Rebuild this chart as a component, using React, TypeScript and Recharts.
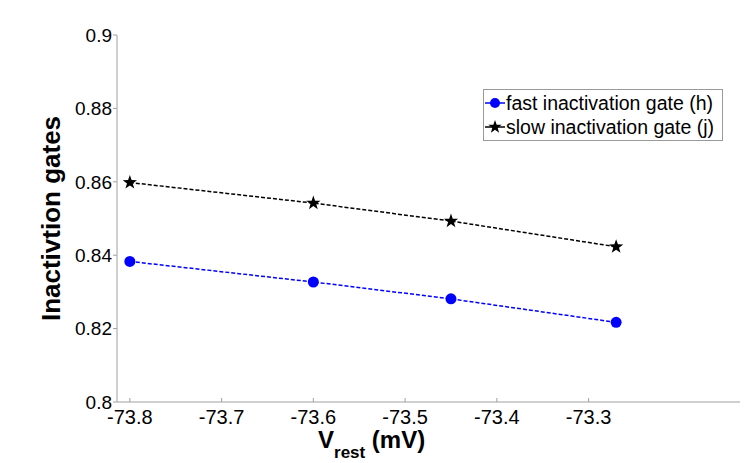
import { LineChart, Line, XAxis, YAxis } from "recharts";

const vRest = [-73.8, -73.6, -73.45, -73.27];
const fastGate = [0.8383, 0.8327, 0.8281, 0.8217];
const slowGate = [0.8598, 0.8542, 0.8493, 0.8423];

const xTicks = [-73.8, -73.7, -73.6, -73.5, -73.4, -73.3];
const yTicks = [0.8, 0.82, 0.84, 0.86, 0.88, 0.9];

const chartData = vRest.map((v, i) => ({ v, fast: fastGate[i], slow: slowGate[i] }));

const FONT = "Arial, 'Liberation Sans', Helvetica, sans-serif";

function starPath(cx: number, cy: number, outer: number, inner: number) {
  let d = "";
  for (let i = 0; i < 10; i++) {
    const r = i % 2 === 0 ? outer : inner;
    const a = -Math.PI / 2 + (i * Math.PI) / 5;
    d += (i === 0 ? "M" : "L") + (cx + r * Math.cos(a)).toFixed(2) + "," + (cy + r * Math.sin(a)).toFixed(2);
  }
  return d + "Z";
}

function StarDot(props: any) {
  const { cx, cy, index } = props;
  if (cx == null || cy == null) return null;
  return <path key={`star-${index}`} d={starPath(cx, cy, 7.5, 3)} fill="#000" />;
}

function LegendBox() {
  const rows = [
    { label: "fast inactivation gate (h)", color: "#0000ff", star: false },
    { label: "slow inactivation gate (j)", color: "#000", star: true },
  ];
  return (
    <div
      style={{
        position: "absolute",
        left: 483,
        top: 89,
        width: 240,
        height: 52,
        boxSizing: "border-box",
        border: "1px solid #9a9a9a",
        background: "#fff",
        fontFamily: FONT,
        fontSize: 19.5,
        color: "#000",
        paddingTop: 1,
      }}
    >
      {rows.map((r) => (
        <div key={r.label} style={{ display: "flex", alignItems: "center", height: 24, whiteSpace: "nowrap" }}>
          <svg width={22} height={20} style={{ flex: "none" }}>
            <line x1={1} y1={10} x2={21} y2={10} stroke={r.color} strokeWidth={1.5} />
            {r.star ? (
              <path d={starPath(11, 10, 7, 2.8)} fill="#000" />
            ) : (
              <circle cx={11} cy={10} r={5} fill={r.color} />
            )}
          </svg>
          <span>{r.label}</span>
        </div>
      ))}
    </div>
  );
}

function XLabel() {
  return (
    <text x={318} y={448} fontFamily={FONT} fontWeight="bold" fill="#000">
      <tspan fontSize={24}>V</tspan>
      <tspan fontSize={17} dy={10}>rest</tspan>
      <tspan fontSize={24} dy={-10}> (mV)</tspan>
    </text>
  );
}

export default function App() {
  return (
    <div style={{ position: "absolute", left: 0, top: 0, width: 750, height: 463, background: "#fff" }}>
      <LineChart width={750} height={463} data={chartData} margin={{ top: 35, right: 10, left: 0, bottom: 0 }}>
        <XAxis
          dataKey="v"
          type="number"
          domain={[-73.814, -73.135]}
          ticks={xTicks}
          allowDataOverflow
          height={61}
          stroke="#a0a0a0"
          tickSize={-4}
          tickMargin={12}
          tick={{ fill: "#000", fontSize: 20, fontFamily: FONT }}
          label={<XLabel />}
        />
        <YAxis
          type="number"
          domain={[0.8, 0.9]}
          ticks={yTicks}
          width={117}
          stroke="#a0a0a0"
          tickSize={4}
          tickMargin={1}
          tickFormatter={(v: number) => String(v)}
          tick={{ fill: "#000", fontSize: 19, fontFamily: FONT }}
          label={{
            value: "Inactivtion gates",
            angle: -90,
            position: "insideLeft",
            dx: 46,
            fill: "#000",
            fontSize: 26,
            fontWeight: "bold",
            fontFamily: FONT,
            style: { textAnchor: "middle" },
          }}
        />
        <Line
          dataKey="fast"
          stroke="#0000ff"
          strokeWidth={1.5}
          strokeDasharray="4 2"
          dot={{ r: 5.5, fill: "#0000ff", stroke: "#0000ff", strokeWidth: 0 }}
          isAnimationActive={false}
        />
        <Line
          dataKey="slow"
          stroke="#000"
          strokeWidth={1.5}
          strokeDasharray="4 2"
          dot={<StarDot />}
          isAnimationActive={false}
        />
      </LineChart>
      <LegendBox />
    </div>
  );
}
